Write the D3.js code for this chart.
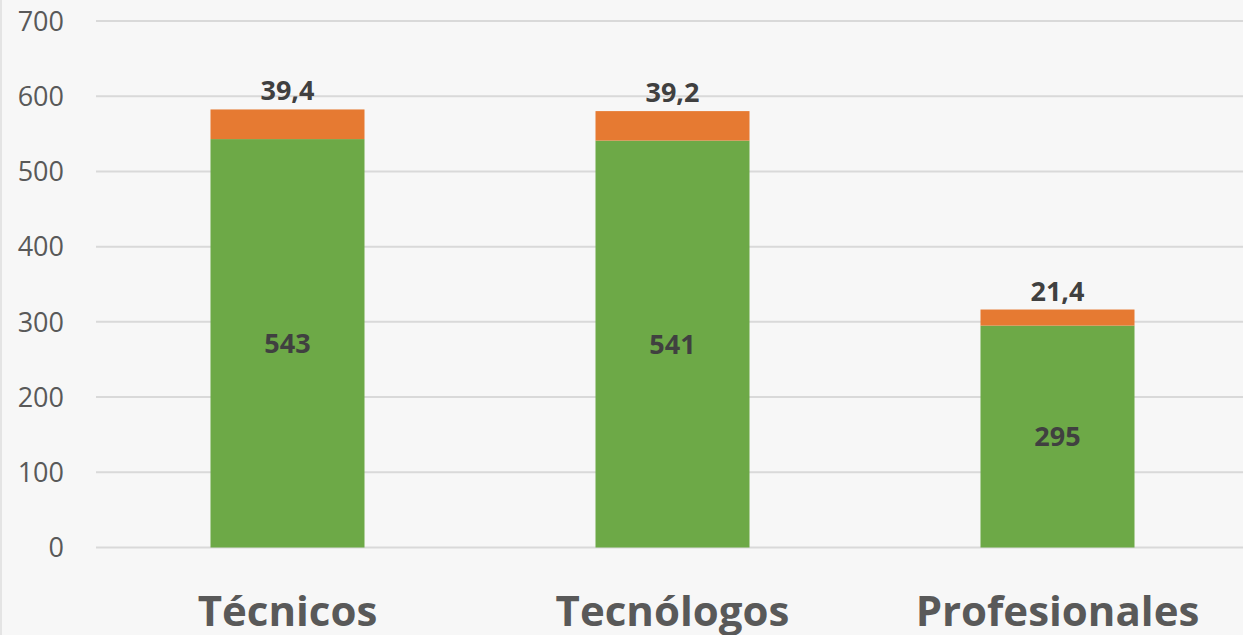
<!DOCTYPE html>
<html>
<head>
<meta charset="utf-8">
<script src="https://cdn.jsdelivr.net/npm/d3@7"></script>
<style>
  html, body { margin: 0; padding: 0; background: #f7f7f7; }
  svg { display: block; font-family: "Open Sans", "Noto Sans", sans-serif; }
</style>
</head>
<body>
<div id="chart"></div>
<script>
// chart data
const categories = ['Técnicos', 'Tecnólogos', 'Profesionales'];
const baseValues = [543, 541, 295];
const topValues = [39.4, 39.2, 21.4];
const yTicks = [0, 100, 200, 300, 400, 500, 600, 700];

const width = 1243;
const height = 635;

const svg = d3.select('#chart')
  .append('svg')
  .attr('width', width)
  .attr('height', height);

svg.append('rect')
  .attr('width', width)
  .attr('height', height)
  .attr('fill', '#f7f7f7');

// faint left frame edge
svg.append('line')
  .attr('x1', 1).attr('x2', 1)
  .attr('y1', 0).attr('y2', height)
  .attr('stroke', '#e4e4e4')
  .attr('stroke-width', 2);

const x = d3.scaleBand()
  .domain(categories)
  .range([95, 1250])
  .paddingInner(0.6)
  .paddingOuter(0.3);

const y = d3.scaleLinear()
  .domain([0, 700])
  .range([547.5, 21]);

// gridlines
svg.append('g')
  .selectAll('line')
  .data(yTicks)
  .join('line')
  .attr('x1', 96)
  .attr('x2', width)
  .attr('y1', (d) => y(d))
  .attr('y2', (d) => y(d))
  .attr('stroke', '#d9d9d9')
  .attr('stroke-width', 2);

// y axis labels
svg.append('g')
  .selectAll('text')
  .data(yTicks)
  .join('text')
  .attr('x', 64)
  .attr('y', (d) => y(d))
  .attr('dy', '0.36em')
  .attr('text-anchor', 'end')
  .attr('font-size', 27)
  .attr('fill', '#595959')
  .text((d) => d);

const rows = categories.map((c, i) => ({ cat: c, base: baseValues[i], top: topValues[i] }));

// bars
const bars = svg.append('g');
bars.selectAll('rect.base')
  .data(rows)
  .join('rect')
  .attr('class', 'base')
  .attr('x', (d) => x(d.cat))
  .attr('width', x.bandwidth())
  .attr('y', (d) => y(d.base))
  .attr('height', (d) => y(0) - y(d.base))
  .attr('fill', '#6DA947');

bars.selectAll('rect.top')
  .data(rows)
  .join('rect')
  .attr('class', 'top')
  .attr('x', (d) => x(d.cat))
  .attr('width', x.bandwidth())
  .attr('y', (d) => y(d.base + d.top))
  .attr('height', (d) => y(d.base) - y(d.base + d.top))
  .attr('fill', '#E67A32');

// value labels
const fmt = (v) => String(v).replace('.', ',');

svg.append('g')
  .selectAll('text')
  .data(rows)
  .join('text')
  .attr('x', (d) => x(d.cat) + x.bandwidth() / 2)
  .attr('y', (d) => (y(d.base) + y(0)) / 2)
  .attr('dy', '0.36em')
  .attr('text-anchor', 'middle')
  .attr('font-size', 27)
  .attr('font-weight', 'bold')
  .attr('fill', '#404040')
  .text((d) => fmt(d.base));

svg.append('g')
  .selectAll('text')
  .data(rows)
  .join('text')
  .attr('x', (d) => x(d.cat) + x.bandwidth() / 2)
  .attr('y', (d) => y(d.base + d.top) - 9)
  .attr('text-anchor', 'middle')
  .attr('font-size', 27)
  .attr('font-weight', 'bold')
  .attr('fill', '#404040')
  .text((d) => fmt(d.top));

// category labels
svg.append('g')
  .selectAll('text')
  .data(categories)
  .join('text')
  .attr('x', (d) => x(d) + x.bandwidth() / 2)
  .attr('y', 626)
  .attr('text-anchor', 'middle')
  .attr('font-size', 42)
  .attr('font-weight', 'bold')
  .attr('fill', '#595959')
  .text((d) => d);
</script>
</body>
</html>
